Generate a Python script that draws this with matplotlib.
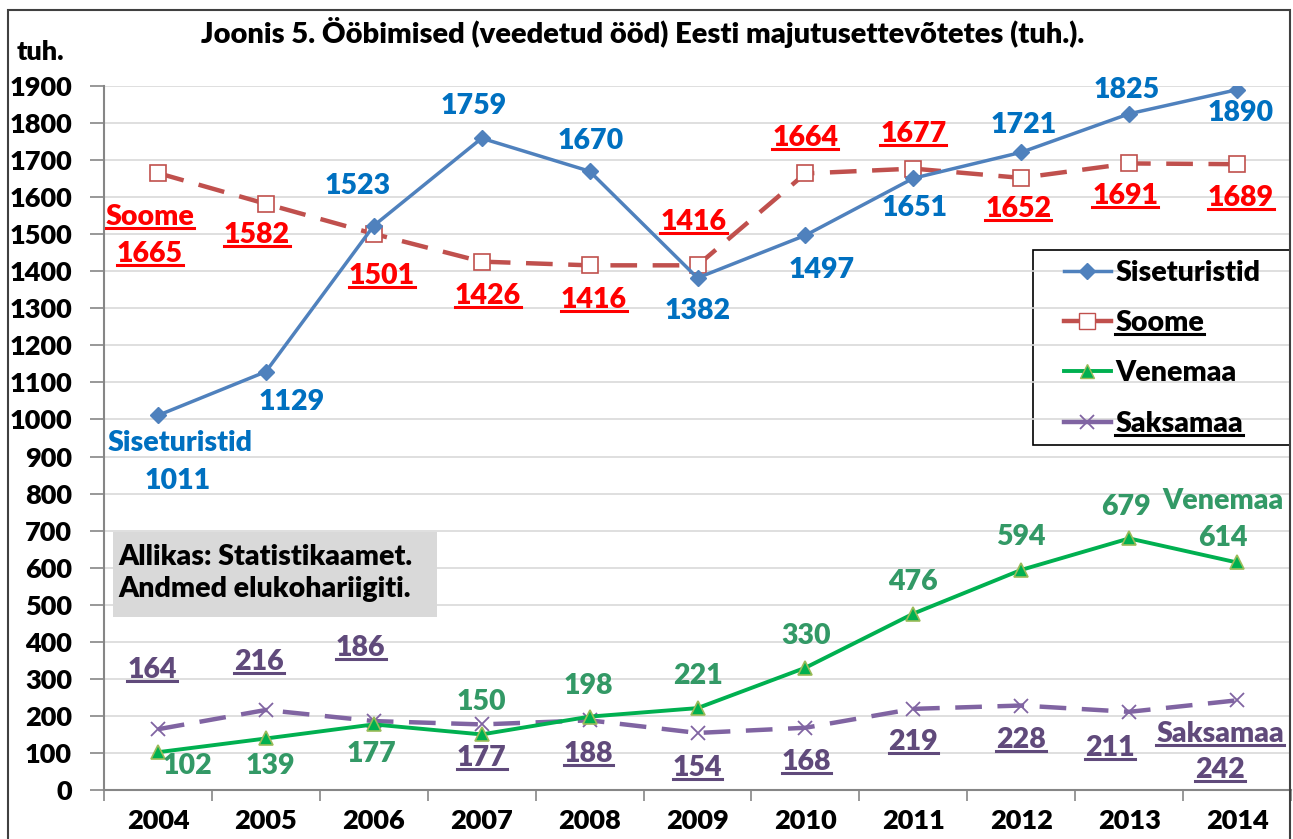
import matplotlib
matplotlib.use("Agg")
import matplotlib.pyplot as plt
from matplotlib import patches
from matplotlib.lines import Line2D

W = 'heavy'
plt.rcParams['font.family'] = ['Lato', 'DejaVu Sans']
plt.rcParams['font.weight'] = W

years = ['2004', '2005', '2006', '2007', '2008', '2009', '2010', '2011', '2012', '2013', '2014']
siseturistid = [1011, 1129, 1523, 1759, 1670, 1382, 1497, 1651, 1721, 1825, 1890]
soome = [1665, 1582, 1501, 1426, 1416, 1416, 1664, 1677, 1652, 1691, 1689]
venemaa = [102, 139, 177, 150, 198, 221, 330, 476, 594, 679, 614]
saksamaa = [164, 216, 186, 177, 188, 154, 168, 219, 228, 211, 242]

# label offsets in pixels (dx right, dy down) relative to each point
sise_off = [(20, 66), (26, 30), (-16, -40), (-8, -32), (1, -30), (0, 33), (16, 35), (1, 30), (2, -27), (-2, -24), (4, 23)]
soome_off = [(-8, 81), (-9, 31), (8, 42), (6, 34), (4, 35), (-4, -43), (0, -35), (0, -35), (-3, 31), (-4, 33), (4, 34)]
vene_off = [(29, 14), (4, 28), (-2, 30), (0, -32), (-1, -31), (0, -32), (1, -32), (0, -32), (0, -33), (-3, -31), (-14, -24)]
saks_off = [(-6, -59), (-7, -48), (-13, -73), (0, 34), (-1, 34), (0, 35), (1, 34), (0, 33), (0, 34), (-19, 36), (-17, 70)]

series = [
    # name, values, line colour, text colour, offsets, name label (idx, dx, dy), underline
    ('Siseturistid', siseturistid, '#4F81BD', '#0070C0', sise_off, (0, 22, 28), False),
    ('Soome', soome, '#C0504D', '#FF0000', soome_off, (0, -8, 44), True),
    ('Venemaa', venemaa, '#00B050', '#339966', vene_off, (10, -14, -61), False),
    ('Saksamaa', saksamaa, '#8064A2', '#604A7B', saks_off, (10, -17, 34), True),
]

fig = plt.figure(figsize=(12.93, 8.39), dpi=100)
ax = fig.add_axes([104 / 1293, 1 - 790 / 839, 1187 / 1293, 704 / 839])

x = list(range(len(years)))
ax.plot(x, siseturistid, color='#4F81BD', lw=2.5, marker='D', ms=8, zorder=4)
ax.plot(x, soome, color='#C0504D', lw=3.2, ls=(0, (6, 3.5)), marker='s', ms=12,
        mfc='white', mec='#C0504D', mew=1.2, zorder=3)
ax.plot(x, venemaa, color='#00B050', lw=2.8, marker='^', ms=10, mfc='#00B050',
        mec='#9BBB59', mew=1.2, zorder=4)
ax.plot(x, saksamaa, color='#8064A2', lw=3.2, ls=(0, (6, 3.5)), marker='x', ms=10,
        mec='#8064A2', mew=1.3, zorder=3)

FS = 19.5
LFS = 20.5
underlined = []
for name, vals, lc, tc, offs, nl, ul in series:
    for i, v in enumerate(vals):
        dx, dy = offs[i]
        t = ax.annotate(str(v), (x[i], v), xytext=(dx, -dy), textcoords='offset pixels',
                        ha='center', va='center', color=tc, fontsize=LFS, fontweight=W,
                        zorder=6, annotation_clip=False)
        if ul:
            underlined.append((t, tc))
    idx, dx, dy = nl
    t = ax.annotate(name, (x[idx], vals[idx]), xytext=(dx, -dy), textcoords='offset pixels',
                    ha='center', va='center', color=tc, fontsize=LFS, fontweight=W,
                    zorder=6, annotation_clip=False)
    if ul:
        underlined.append((t, tc))

ax.set_xlim(-0.5, 10.5)
ax.set_ylim(0, 1900)
ax.set_yticks(range(0, 2000, 100))
ax.set_xticks(x)
ax.set_xticklabels(years)
ax.set_xticks([i + 0.5 for i in range(-1, 11)], minor=True)
ax.tick_params(axis='x', which='major', length=0, pad=14, labelsize=FS)
ax.tick_params(axis='x', which='minor', length=8, width=1.2, color='#868686', direction='out')
ax.tick_params(axis='y', length=10, width=1.2, color='#868686', pad=13, labelsize=FS)
for lab in ax.get_xticklabels() + ax.get_yticklabels():
    lab.set_fontweight(W)
ax.grid(axis='y', color='#D9D9D9', lw=1.2)
ax.set_axisbelow(True)
for s in ['top', 'right']:
    ax.spines[s].set_visible(False)
for s in ['left', 'bottom']:
    ax.spines[s].set_color('#868686')
    ax.spines[s].set_linewidth(1.5)

handles = [
    Line2D([], [], color='#4F81BD', lw=2.5, marker='D', ms=8),
    Line2D([], [], color='#C0504D', lw=3.2, marker='s', ms=11, mfc='white', mec='#C0504D'),
    Line2D([], [], color='#00B050', lw=2.8, marker='^', ms=10, mec='#9BBB59'),
    Line2D([], [], color='#8064A2', lw=3.2, marker='x', ms=10, mew=1.3),
]
leg = ax.legend(handles, ['Siseturistid', 'Soome', 'Venemaa', 'Saksamaa'], loc='upper left',
                bbox_to_anchor=((1054 - 104) / 1187, (790 - 250) / 704), frameon=False,
                prop={'size': 20.5, 'weight': W}, handlelength=1.65,
                handletextpad=0.15, labelspacing=0.85, borderpad=0.35, borderaxespad=0)
leg.set_zorder(8)
for t in leg.get_texts()[1::2]:
    underlined.append((t, 'black'))
# legend frame
fig.patches.append(patches.Rectangle((1033 / 1293, 1 - 445 / 839), 257 / 1293, 195 / 839,
                                     transform=fig.transFigure, facecolor='white',
                                     edgecolor='black', lw=1.2, zorder=1.5))

# source box
ax.text((118 - 104) / 1187, (790 - 573) / 704,
        'Allikas: Statistikaamet.\nAndmed elukohariigiti.', transform=ax.transAxes,
        ha='left', va='center', fontsize=20.5, fontweight=W, color='black', linespacing=1.3,
        zorder=7)
fig.patches.append(patches.Rectangle((113 / 1293, 1 - 617 / 839), 324 / 1293, 85 / 839,
                                     transform=fig.transFigure, facecolor='#D9D9D9',
                                     edgecolor='none', zorder=1))
ax.set_zorder(2)
ax.patch.set_alpha(0)

fig.text(643 / 1293, 1 - 33 / 839,
         'Joonis 5. Ööbimised (veedetud ööd) Eesti majutusettevõtetes (tuh.).',
         ha='center', va='center', fontsize=21, fontweight=W)
fig.text(40 / 1293, 1 - 52 / 839, 'tuh.', ha='center', va='center', fontsize=FS,
         fontweight=W)

fig.patches.append(patches.Rectangle((8 / 1293, -0.02), 1282 / 1293, 1 - 10 / 839 + 0.02,
                                     transform=fig.transFigure, fill=False,
                                     edgecolor='#404040', lw=1.5, zorder=10))

# underline texts
fig.canvas.draw()
r = fig.canvas.get_renderer()
for t, c in underlined:
    bb = t.get_window_extent(r)
    y = bb.y0 + 2
    fig.add_artist(Line2D([bb.x0 / 1293, bb.x1 / 1293], [y / 839, y / 839],
                          transform=fig.transFigure, color=c, lw=2.2, zorder=9))

fig.savefig('out.png', dpi=100)
